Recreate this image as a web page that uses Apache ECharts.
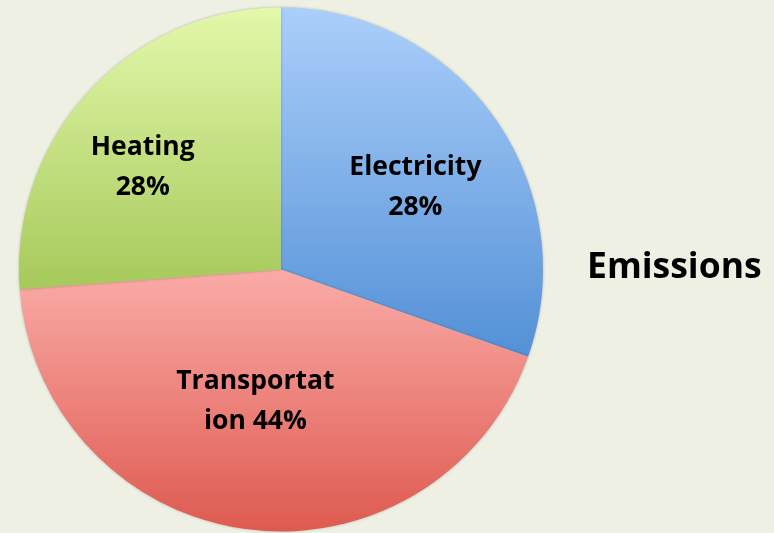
<!DOCTYPE html>
<html>
<head>
<meta charset="utf-8">
<script src="https://cdn.jsdelivr.net/npm/echarts@6/dist/echarts.min.js"></script>
<style>
html,body{margin:0;padding:0;background:#eef0e4;}
#chart{width:774px;height:533px;}
</style>
</head>
<body>
<div id="chart"></div>
<script>
// Data
var categories = ['Electricity', 'Transportation', 'Heating'];
var sliceValues = [30.4, 43.4, 26.2];           // share of the circle as drawn
var percentLabels = ['28%', '44%', '28%'];      // percentages as printed on the slices
var legendTitle = 'Emissions';

var FONT = '"Open Sans"';
var LABEL_SIZE = 26.5;
var gradients = [
  ['#abcffb', '#5390d6'],
  ['#faaba7', '#de5a50'],
  ['#e3f8ab', '#a6c95a']
];
var offsets = [[25, -5], [-8, -1], [-40, -11]];

function grad(c) {
  return new echarts.graphic.LinearGradient(0, 0, 0, 1, [
    {offset: 0, color: c[0]}, {offset: 1, color: c[1]}
  ]);
}

// wrap width so the long label breaks like the original
var cv = document.createElement('canvas').getContext('2d');
cv.font = 'bold ' + LABEL_SIZE + 'px ' + FONT;
var wrapWidth = Math.ceil(cv.measureText('Transportat').width) + 3;

var chart = echarts.init(document.getElementById('chart'));

var data = categories.map(function (name, i) {
  var lbl = {offset: offsets[i]};
  if (i === 1) {
    lbl.formatter = name + ' ' + percentLabels[i];
    lbl.width = wrapWidth;
    lbl.overflow = 'breakAll';
  } else {
    lbl.formatter = name + '\n' + percentLabels[i];
  }
  return {
    name: name,
    value: sliceValues[i],
    itemStyle: {color: grad(gradients[i])},
    label: lbl
  };
});

chart.setOption({
  backgroundColor: '#eef0e4',
  animation: false,
  graphic: [{
    type: 'text',
    x: 587,
    y: 268,
    style: {
      text: legendTitle,
      font: 'bold 35.5px ' + FONT,
      fill: '#000',
      verticalAlign: 'middle'
    }
  }],
  series: [{
    type: 'pie',
    center: [281, 269.5],
    radius: [0, 262],
    startAngle: 90,
    clockwise: true,
    avoidLabelOverlap: false,
    itemStyle: {borderWidth: 0, shadowBlur: 3, shadowColor: 'rgba(0,0,0,0.25)'},
    label: {
      show: true,
      position: 'inside',
      color: '#000',
      fontFamily: FONT,
      fontWeight: 'bold',
      fontSize: LABEL_SIZE,
      lineHeight: 40,
      align: 'center'
    },
    labelLine: {show: false},
    emphasis: {disabled: true},
    data: data
  }]
});
</script>
</body>
</html>
